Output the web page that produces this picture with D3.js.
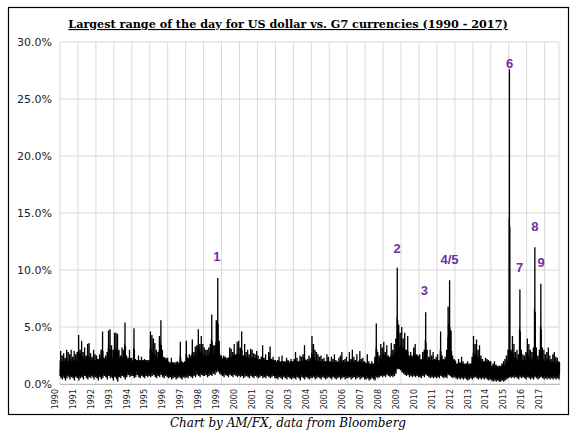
<!DOCTYPE html><html><head><meta charset="utf-8">
<script src="https://cdn.jsdelivr.net/npm/d3@7"></script>
<style>body{margin:0;background:#fff}</style></head><body>
<svg id="c" width="586" height="431"></svg>
<script>
const years = d3.range(1990, 2018);
const yTicks = [0, 5, 10, 15, 20, 25, 30];
// monthly maximum daily range (%)
const monthlyHigh = [
[2.9,2.5,2.7,2.3,3.0,2.8,2.6,3.0,2.4,2.9,2.6,2.8],
[4.3,3.0,3.8,2.8,3.2,2.5,3.5,3.6,2.7,2.4,3.0,2.6],
[2.5,2.2,2.6,3.0,4.6,2.3,2.5,2.8,4.7,4.8,3.4,3.0],
[4.5,4.5,4.4,3.0,2.5,3.2,3.0,5.4,2.5,2.0,3.0,2.2],
[2.0,4.9,2.2,2.0,2.5,2.0,2.4,2.0,2.2,2.0,1.8,2.0],
[4.6,4.3,4.0,3.6,3.0,2.8,4.2,5.6,3.0,2.4,2.0,2.2],
[2.0,1.8,2.3,1.9,1.6,1.5,2.0,1.7,3.7,2.0,1.8,2.0],
[3.8,2.3,2.6,2.5,3.9,2.8,3.3,3.4,4.8,3.5,4.2,3.5],
[3.2,3.0,3.0,3.2,3.5,6.1,3.4,3.4,5.6,9.3,3.8,2.5],
[2.2,2.5,2.4,2.0,2.3,3.2,3.1,2.8,3.5,2.6,3.7,3.8],
[3.2,4.6,2.5,3.5,2.8,3.0,2.6,3.1,3.0,2.7,2.6,2.9],
[2.5,2.2,2.4,3.4,2.3,2.6,2.1,2.8,3.3,2.2,2.4,2.0],
[1.8,2.1,2.4,1.9,2.5,2.0,1.9,2.3,2.1,1.8,2.2,2.0],
[2.2,2.8,2.3,2.0,2.5,2.4,2.6,3.4,2.1,2.2,2.5,2.3],
[4.2,3.5,3.0,2.8,2.6,2.4,2.5,2.2,2.3,2.0,2.6,2.4],
[2.0,2.4,2.2,2.6,2.1,2.0,2.3,2.5,2.8,2.1,2.2,2.4],
[2.0,2.8,2.2,3.0,2.4,2.1,2.6,2.0,2.9,2.2,2.3,2.0],
[1.8,2.6,2.0,1.7,2.0,1.8,2.4,5.3,2.8,2.5,3.5,3.2],
[3.7,2.8,3.4,2.5,2.4,3.6,3.0,3.5,4.0,10.2,5.2,4.5],
[5.0,4.0,4.5,3.0,4.2,2.5,2.8,2.2,3.2,3.5,2.6,2.4],
[2.6,2.2,2.8,3.0,6.3,3.0,2.4,3.0,2.5,2.8,2.2,2.4],
[2.6,2.0,4.6,2.5,2.2,2.4,3.0,6.8,9.1,4.7,2.5,2.2],
[2.0,1.8,2.2,1.9,2.4,2.0,1.7,1.8,2.0,1.6,1.8,2.4],
[4.2,3.5,3.9,3.0,3.4,2.5,2.2,2.0,2.3,2.2,2.1,2.0],
[1.6,1.8,2.0,1.7,1.5,1.4,1.5,1.8,2.0,2.2,2.5,3.0],
[27.6,3.0,4.2,3.5,2.8,3.0,2.6,8.3,3.0,2.6,2.5,2.8],
[4.0,3.5,3.0,2.8,3.2,12.0,3.2,2.5,3.0,8.8,3.2,3.0],
[2.6,2.8,3.2,2.5,2.2,2.6,2.8,2.4,2.3,2.0]
];
// monthly low daily range (%)
const monthlyLow = [
[0.5,0.4,0.6,0.3,0.5,0.7,0.4,0.6,0.5,0.3,0.6,0.5],
[0.3,0.5,0.6,0.4,0.7,0.5,0.4,0.6,0.5,0.7,0.4,0.6],
[0.5,0.3,0.6,0.4,0.5,0.7,0.6,0.4,0.7,0.5,0.6,0.3],
[0.6,0.5,0.2,0.6,0.5,0.7,0.6,0.4,0.6,0.8,0.6,0.7],
[0.7,0.5,0.6,0.8,0.6,0.5,0.7,0.6,0.5,0.7,0.6,0.7],
[0.6,0.7,0.8,0.6,0.5,0.7,0.6,0.8,0.6,0.5,0.7,0.6],
[0.5,0.6,0.4,0.5,0.6,0.4,0.5,0.6,0.5,0.4,0.6,0.5],
[0.6,0.5,0.7,0.6,0.5,0.7,0.6,0.8,0.7,0.6,0.8,0.7],
[0.7,0.8,0.6,0.7,0.8,0.7,0.9,0.8,1.0,1.1,0.9,0.8],
[0.7,0.6,0.8,0.7,0.6,0.8,0.7,0.6,0.8,0.7,0.6,0.7],
[0.6,0.7,0.5,0.6,0.7,0.6,0.5,0.7,0.6,0.5,0.7,0.6],
[0.5,0.6,0.7,0.5,0.6,0.5,0.7,0.6,0.5,0.6,0.7,0.5],
[0.5,0.4,0.6,0.5,0.4,0.6,0.5,0.4,0.6,0.5,0.4,0.5],
[0.5,0.4,0.6,0.5,0.3,0.6,0.5,0.4,0.6,0.5,0.4,0.5],
[0.5,0.6,0.4,0.5,0.6,0.5,0.4,0.6,0.5,0.4,0.5,0.6],
[0.5,0.4,0.6,0.5,0.4,0.5,0.6,0.4,0.5,0.6,0.4,0.5],
[0.5,0.6,0.4,0.5,0.6,0.4,0.5,0.6,0.4,0.5,0.6,0.4],
[0.4,0.5,0.3,0.4,0.5,0.4,0.3,0.6,0.5,0.6,0.7,0.6],
[0.7,0.6,0.8,0.7,0.6,0.7,0.6,0.7,0.9,1.4,1.6,1.2],
[1.0,0.9,0.8,0.7,0.8,0.6,0.7,0.6,0.7,0.6,0.7,0.6],
[0.6,0.5,0.7,0.6,0.8,0.7,0.6,0.5,0.6,0.5,0.6,0.5],
[0.6,0.5,0.7,0.6,0.5,0.6,0.5,0.8,0.7,0.6,0.5,0.6],
[0.5,0.4,0.5,0.4,0.5,0.4,0.5,0.4,0.3,0.4,0.5,0.4],
[0.5,0.6,0.5,0.4,0.5,0.4,0.5,0.4,0.5,0.4,0.3,0.4],
[0.3,0.2,0.3,0.2,0.3,0.2,0.2,0.3,0.2,0.3,0.4,0.5],
[0.6,0.5,0.6,0.5,0.6,0.5,0.4,0.6,0.5,0.6,0.5,0.4],
[0.6,0.5,0.4,0.5,0.4,0.6,0.5,0.4,0.5,0.6,0.5,0.4],
[0.5,0.4,0.5,0.4,0.5,0.4,0.5,0.4,0.5,0.4]
];
// yearly typical daily range (%)
const yearlyMid = [1.3,1.4,1.5,1.6,1.4,1.6,1.2,1.5,1.8,1.6,1.6,1.4,1.3,1.3,1.3,1.2,1.2,1.1,1.6,1.8,1.4,1.4,1.1,1.3,0.9,1.4,1.3,1.2];
const labels = ["1","2","3","4/5","6","7","8","9"];
const labelDates = [1998.74,2008.78,2010.3,2011.7,2015.05,2015.6,2016.45,2016.8];
const labelValues = [10.8,11.5,7.8,10.5,27.7,9.8,13.4,10.3];

const svg = d3.select("#c");
svg.append("rect").attr("x",8.5).attr("y",7.5).attr("width",560).attr("height",407).attr("fill","none").attr("stroke","#000").attr("stroke-width",1.2);
const x = d3.scaleLinear().domain([1990, 2017.8]).range([60, 559]);
const y = d3.scaleLinear().domain([0, 30]).range([384, 42]);

const g = svg.append("g");
g.selectAll(".vg").data(years).join("line").attr("x1",d=>x(d)).attr("x2",d=>x(d)).attr("y1",y(30)).attr("y2",y(0)).attr("stroke","#d9d9d9");
g.append("line").attr("x1",x(2017.8)).attr("x2",x(2017.8)).attr("y1",y(30)).attr("y2",y(0)).attr("stroke","#d9d9d9");
g.selectAll(".hg").data(yTicks).join("line").attr("x1",x(1990)).attr("x2",x(2017.8)).attr("y1",d=>y(d)).attr("y2",d=>y(d)).attr("stroke","#d9d9d9");

const pts = [];
monthlyHigh.forEach((row, yi) => {
  const mid = yearlyMid[yi];
  row.forEach((h, m) => {
    const lo = monthlyLow[yi][m];
    const t0 = years[yi] + m / 12, dt = 1 / 12;
    const seq = [[0,mid],[0.08,lo+0.2],[0.16,mid+0.4],[0.24,(h+mid)/2],[0.3,mid-0.2],[0.38,lo+0.4],[0.46,h],[0.5,lo+0.3],[0.58,mid+0.5],[0.66,lo],[0.74,(h+mid)/2.1],[0.82,mid-0.3],[0.9,lo+0.5],[0.96,mid+0.7]];
    seq.forEach(([f,v]) => pts.push([t0 + f*dt, v]));
  });
});
g.append("path").datum(pts).attr("fill","none").attr("stroke","#000").attr("stroke-width",1.3)
 .attr("d", d3.line().x(d=>x(d[0])).y(d=>y(d[1])));

const ya = svg.append("g").attr("transform",`translate(${x(1990)},0)`)
  .call(d3.axisLeft(y).tickValues(yTicks).tickSize(0).tickPadding(8).tickFormat(d=>d.toFixed(1)+"%"));
ya.select(".domain").remove();
ya.selectAll("text").attr("font-family","DejaVu Sans, Arial").attr("font-size",11).attr("fill","#222");

const xa = svg.append("g").attr("transform",`translate(0,${y(0)})`)
  .call(d3.axisBottom(x).tickValues(years).tickSize(0).tickFormat(d3.format("d")));
xa.select(".domain").attr("stroke","#bbb");
xa.selectAll("text").attr("font-family","DejaVu Sans, Arial").attr("font-size",8).attr("fill","#222")
  .attr("transform","rotate(-90)").attr("text-anchor","end").attr("dx","-5").attr("dy","-0.35em").attr("y",0).attr("x",0);

svg.selectAll(".lab").data(labels).join("text").attr("x",(d,i)=>x(labelDates[i])).attr("y",(d,i)=>y(labelValues[i]))
  .attr("text-anchor","middle").attr("font-family","Liberation Sans, Arial").attr("font-weight","bold").attr("font-size",13)
  .attr("fill","#7030A0").text(d=>d);

svg.append("text").attr("x",288).attr("y",28).attr("text-anchor","middle").attr("font-family","DejaVu Serif, serif")
  .attr("font-weight","bold").attr("font-size",11.2).attr("text-decoration","underline").text("Largest range of the day for US dollar vs. G7 currencies (1990 - 2017)");
svg.append("text").attr("x",288).attr("y",427).attr("text-anchor","middle").attr("font-family","DejaVu Serif, serif")
  .attr("font-style","italic").attr("font-size",12).text("Chart by AM/FX, data from Bloomberg");
</script></body></html>
